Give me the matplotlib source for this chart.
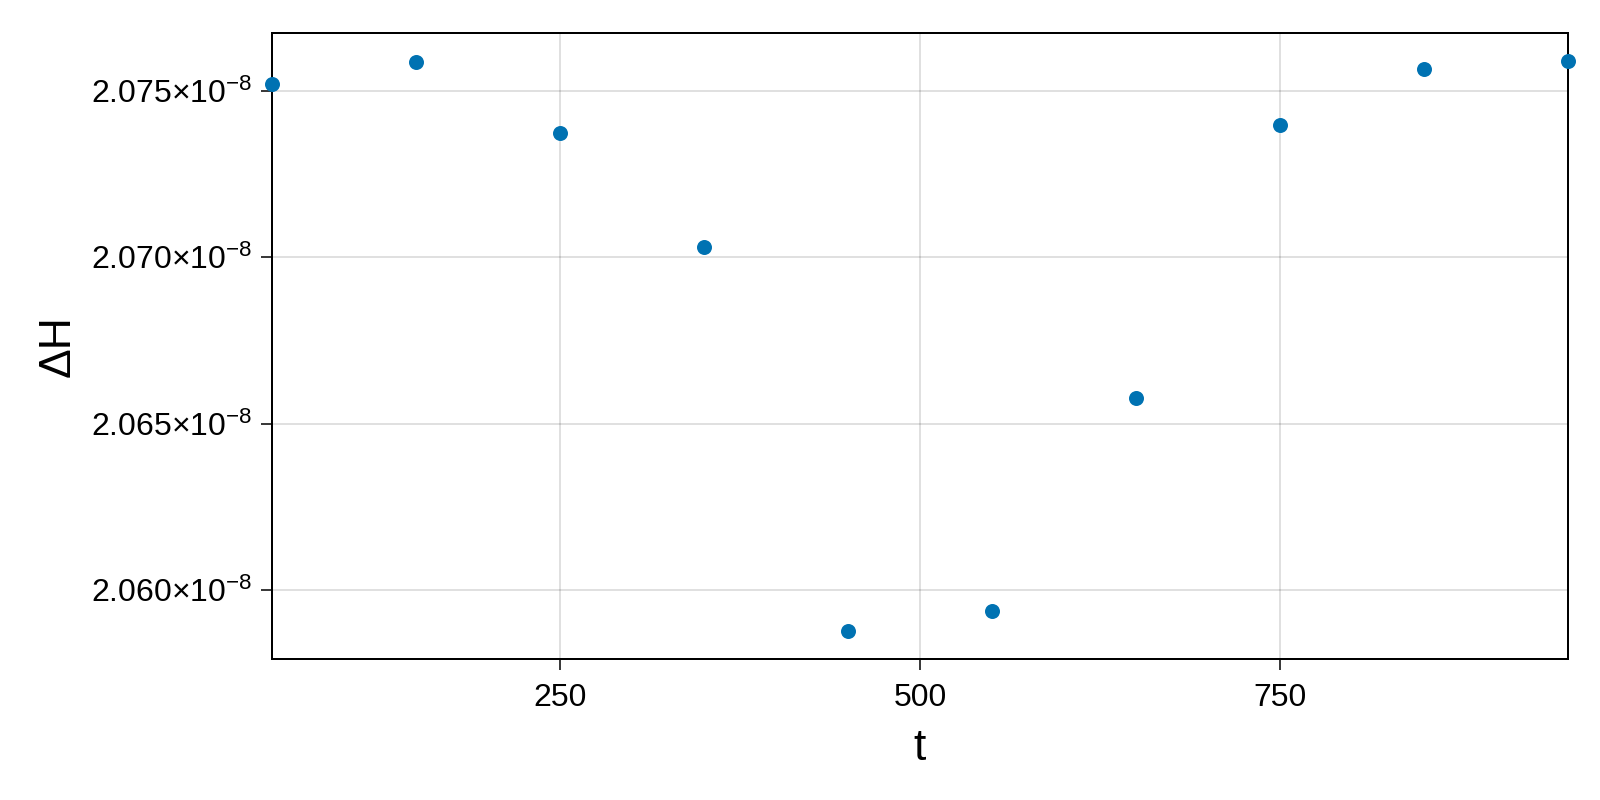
import matplotlib
matplotlib.use("Agg")
import matplotlib.pyplot as plt
from matplotlib.ticker import FuncFormatter, FixedLocator

plt.rcParams['font.family'] = ['Liberation Sans', 'DejaVu Sans']
plt.rcParams['mathtext.fontset'] = 'custom'
plt.rcParams['mathtext.rm'] = 'Liberation Sans'
plt.rcParams['mathtext.it'] = 'Liberation Sans:italic'
plt.rcParams['mathtext.bf'] = 'Liberation Sans:bold'

t = [50, 150, 250, 350, 450, 550, 650, 750, 850, 950]
dH = [2.07519e-8, 2.07588e-8, 2.07374e-8, 2.07030e-8, 2.05878e-8,
      2.05938e-8, 2.06578e-8, 2.07397e-8, 2.07566e-8, 2.07589e-8]
xticks = [250, 500, 750]
yticks = [2.060e-8, 2.065e-8, 2.070e-8, 2.075e-8]

fig = plt.figure(figsize=(16, 8), dpi=100)
ax = fig.add_axes([272/1600, 1 - 659/800, (1568 - 272)/1600, (659 - 32.7)/800])

ax.plot(t, dH, linestyle='none', marker='o', markersize=10.8,
        color='#0072B2', markeredgewidth=0, clip_on=False, zorder=3)

ax.set_xlim(50, 950)
lo, hi = min(dH), max(dH)
m = 0.05 * (hi - lo)
ax.set_ylim(lo - m, hi + m)

ax.xaxis.set_major_locator(FixedLocator(xticks))
ax.yaxis.set_major_locator(FixedLocator(yticks))


def yfmt(v, pos):
    return r"$\mathregular{%.3f{\times}10^{-8}}$" % (v / 1e-8)


ax.yaxis.set_major_formatter(FuncFormatter(yfmt))
ax.xaxis.set_major_formatter(FuncFormatter(lambda v, p: "%d" % v))

ax.grid(True, color='black', alpha=0.12, linewidth=1.44, zorder=0)
ax.set_axisbelow(True)
for s in ax.spines.values():
    s.set_linewidth(1.44)
    s.set_color('black')

ax.tick_params(axis='both', direction='out', length=8, width=1.1,
               labelsize=23, color='black')
ax.tick_params(axis='y', pad=6)
ax.tick_params(axis='x', pad=9)

ax.set_xlabel('t', fontsize=32, labelpad=11)
ax.set_ylabel('ΔH', fontsize=32, labelpad=9)

fig.savefig('out.png', dpi=100, facecolor='white')
